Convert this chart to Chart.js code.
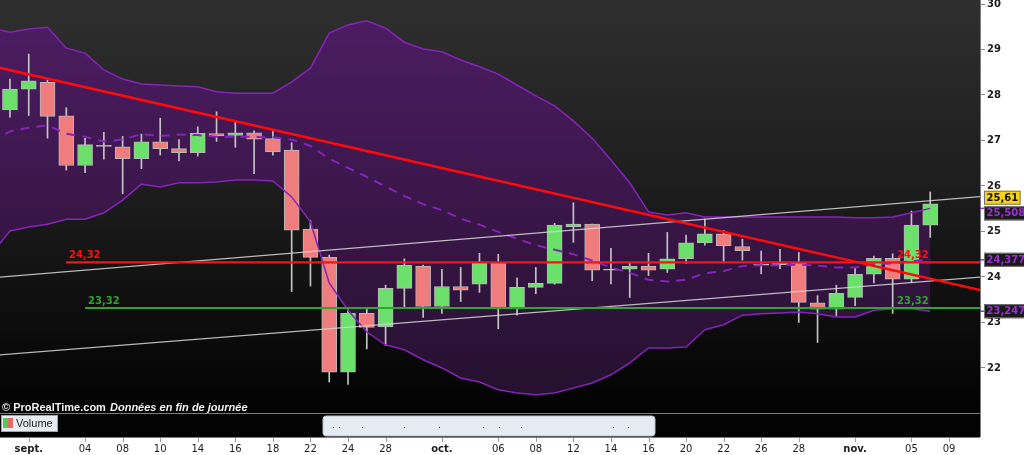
<!DOCTYPE html>
<html>
<head>
<meta charset="utf-8">
<script src="https://cdn.jsdelivr.net/npm/chart.js@4.4.1/dist/chart.umd.min.js"></script>
<style>
  html, body { margin: 0; padding: 0; background: #fff; }
  #wrap { width: 1024px; height: 455px; position: relative; }
</style>
</head>
<body>
<div id="wrap"><canvas id="chart"></canvas></div>
<script>
// daily candles, index 0 = 31 Aug ... 49 = 6 Nov
const opens  = [27.67, 28.13, 28.28, 27.54, 26.45, 26.88, 26.86, 26.60, 26.97, 26.82,
                26.73, 27.15, 27.11, 27.17, 27.04, 26.79, 25.05, 24.43, 21.91, 23.20,
                22.90, 23.75, 24.24, 23.35, 23.79, 23.84, 24.31, 23.30, 23.77, 23.86,
                25.10, 25.16, 24.16, 24.17, 24.24, 24.17, 24.40, 24.75, 24.95, 24.67,
                24.27, 24.27, 24.31, 23.43, 23.29, 23.55, 24.06, 24.41, 23.95, 25.14];
const highs  = [28.35, 28.90, 28.33, 27.72, 27.05, 27.18, 27.09, 27.14, 27.49, 27.02,
                27.30, 27.63, 27.44, 27.21, 27.23, 26.95, 25.24, 24.48, 23.29, 23.33,
                23.82, 24.40, 24.26, 24.17, 24.21, 24.52, 24.50, 23.98, 24.21, 25.18,
                25.63, 25.16, 24.63, 24.31, 24.52, 24.98, 24.92, 25.27, 25.02, 24.83,
                24.57, 24.61, 24.54, 23.59, 23.82, 24.19, 24.46, 24.51, 25.45, 25.87];
const lows   = [27.51, 27.55, 27.05, 26.35, 26.29, 26.59, 25.83, 26.38, 26.68, 26.55,
                26.66, 26.98, 26.85, 26.27, 26.68, 23.68, 23.80, 21.69, 21.64, 22.42,
                22.49, 23.33, 23.11, 23.20, 23.46, 23.66, 22.86, 23.16, 23.63, 23.84,
                24.76, 23.92, 23.85, 23.55, 24.03, 24.10, 24.30, 24.70, 24.34, 24.37,
                24.07, 24.18, 23.00, 22.56, 23.15, 23.37, 23.87, 23.20, 23.88, 24.87];
const closes = [28.13, 28.31, 27.53, 26.45, 26.91, 26.88, 26.60, 26.97, 26.82, 26.73,
                27.16, 27.10, 27.17, 27.03, 26.75, 25.03, 24.43, 21.91, 23.20, 22.89,
                23.75, 24.26, 23.35, 23.79, 23.71, 24.31, 23.30, 23.77, 23.86, 25.14,
                25.16, 24.15, 24.16, 24.24, 24.15, 24.40, 24.75, 24.95, 24.69, 24.58,
                24.27, 24.31, 23.44, 23.29, 23.64, 24.06, 24.41, 23.95, 25.14, 25.61];

// Bollinger bands, index -1 .. 49
const bbUpper = [29.47, 29.38, 29.45, 29.49, 29.03, 28.92, 28.55, 28.35, 28.24, 28.22, 28.20,
                 28.18, 28.07, 28.04, 28.04, 28.04, 28.29, 28.59, 29.36, 29.54, 29.63,
                 29.47, 29.16, 29.01, 28.95, 28.77, 28.62, 28.46, 28.22, 27.98, 27.76,
                 27.43, 27.05, 26.57, 26.07, 25.43, 25.36, 25.41, 25.32, 25.32, 25.32,
                 25.32, 25.32, 25.32, 25.32, 25.32, 25.30, 25.30, 25.32, 25.41, 25.508];
const bbMid   = [26.98, 27.20, 27.28, 27.33, 27.15, 27.08, 26.98, 27.02, 27.14, 27.10, 27.13,
                 27.12, 27.08, 27.08, 27.08, 27.07, 27.02, 26.88, 26.60, 26.40, 26.20,
                 25.99, 25.78, 25.60, 25.47, 25.28, 25.15, 24.99, 24.84, 24.70, 24.60,
                 24.50, 24.36, 24.21, 24.09, 23.94, 23.90, 23.94, 24.08, 24.13, 24.24,
                 24.26, 24.26, 24.27, 24.25, 24.21, 24.21, 24.28, 24.30, 24.35, 24.377];
const bbLower = [24.50, 25.01, 25.10, 25.16, 25.27, 25.27, 25.41, 25.69, 26.04, 25.98, 26.07,
                 26.07, 26.09, 26.13, 26.13, 26.11, 25.76, 25.21, 23.87, 23.27, 22.79,
                 22.51, 22.40, 22.18, 22.00, 21.78, 21.69, 21.52, 21.45, 21.41, 21.45,
                 21.56, 21.67, 21.85, 22.11, 22.44, 22.44, 22.46, 22.84, 22.95, 23.16,
                 23.19, 23.21, 23.23, 23.19, 23.12, 23.12, 23.27, 23.30, 23.30, 23.247];

// axis ticks
const yTicks = [22, 23, 24, 25, 26, 27, 28, 29, 30];
const tickIdx = [1, 4, 6, 8, 10, 12, 14, 16, 18, 20, 23, 26, 28, 30, 32, 34, 36, 38, 40, 42, 45, 48, 50];
const tickLabels = ['sept.', '04', '08', '10', '14', '16', '18', '22', '24', '28', 'oct.',
                    '06', '08', '12', '14', '16', '20', '22', '26', '28', 'nov.', '05', '09'];

// hand-drawn lines: [index, price] end points
const downTrend   = [[-1, 28.64], [52, 23.68]];
const channelHigh = [[-1, 23.98], [52, 25.78]];
const channelLow  = [[-1, 22.27], [52, 24.01]];
const levels      = [24.32, 23.32];
const levelStart  = [2.98, 4.0];
const levelColors = ['#ff1010', '#2fa52f'];

const FONT = "'DejaVu Sans', sans-serif";
const SANS = "'Liberation Sans', Arial, sans-serif";
const UP = '#6be06b', DOWN = '#f07d7d', FLAT = '#dedede';

const bodies = opens.map((o, i) => {
  const c = closes[i];
  return { x: i, y: o === c ? [o - 0.012, o + 0.012] : [o, c] };
});
const bodyColors = opens.map((o, i) => closes[i] > o ? UP : closes[i] < o ? DOWN : FLAT);
const wicks = lows.map((l, i) => ({ x: i, y: [l, highs[i]] }));
const band = arr => arr.map((v, i) => ({ x: i - 1, y: v }));
const seg = pts => pts.map(p => ({ x: p[0], y: p[1] }));
const fmt = (v, d) => v.toFixed(d).replace('.', ',');

function line(data, color, width, order, extra) {
  return Object.assign({
    type: 'line', data, borderColor: color, borderWidth: width,
    pointRadius: 0, tension: 0, fill: false, order
  }, extra || {});
}

const prtPlugin = {
  id: 'prt',
  beforeDraw(chart) {
    const c = chart.ctx, a = chart.chartArea;
    c.save();
    c.fillStyle = '#fff';
    c.fillRect(0, 0, chart.width, chart.height);
    const g = c.createLinearGradient(0, a.top, 0, a.bottom);
    g.addColorStop(0, '#2f2f2f');
    g.addColorStop(0.45, '#1d1d1d');
    g.addColorStop(1, '#020202');
    c.fillStyle = g;
    c.fillRect(a.left, a.top, a.right - a.left, a.bottom - a.top);
    // volume panel
    c.fillStyle = '#030303';
    c.fillRect(a.left, a.bottom, a.right - a.left, 24);
    c.restore();
  },
  afterDraw(chart) {
    const c = chart.ctx, a = chart.chartArea;
    const xs = chart.scales.x, ys = chart.scales.y;
    c.save();
    // panel borders
    c.strokeStyle = '#7a7a7a';
    c.lineWidth = 1;
    c.beginPath();
    c.moveTo(a.left, a.bottom + 0.5); c.lineTo(a.right, a.bottom + 0.5);
    c.moveTo(a.left, a.bottom + 24.5); c.lineTo(a.right, a.bottom + 24.5);
    c.moveTo(a.right + 0.5, a.top); c.lineTo(a.right + 0.5, a.bottom + 24);
    c.stroke();
    // x tick marks
    c.strokeStyle = '#999';
    c.beginPath();
    tickIdx.forEach(v => {
      const px = Math.round(xs.getPixelForValue(v)) + 0.5;
      c.moveTo(px, a.bottom + 25); c.lineTo(px, a.bottom + 29);
    });
    c.stroke();

    // level labels
    c.font = 'bold 10px ' + FONT;
    c.textBaseline = 'alphabetic';
    levels.forEach((lv, k) => {
      const py = ys.getPixelForValue(lv);
      c.fillStyle = levelColors[k];
      c.fillText(fmt(lv, 2), xs.getPixelForValue(levelStart[k]) + 3, py - 4);
      c.fillText(fmt(lv, 2), a.right - 83, py - 4);
    });

    // price tags on the right axis
    const last = closes.length - 1;
    function tag(text, value, dy, bg, fg, tick) {
      const py = ys.getPixelForValue(value);
      if (tick) {
        c.strokeStyle = fg; c.lineWidth = 1.5;
        c.beginPath(); c.moveTo(a.right, py); c.lineTo(a.right + 6, py); c.stroke();
      }
      c.font = 'bold 10px ' + FONT;
      const w = c.measureText(text).width + 5;
      c.fillStyle = bg;
      c.fillRect(a.right + 4, py + dy - 7, w, 14);
      c.strokeStyle = '#777'; c.lineWidth = 1;
      c.strokeRect(a.right + 4.5, py + dy - 6.5, w - 1, 13);
      c.fillStyle = fg;
      c.textBaseline = 'middle';
      c.fillText(text, a.right + 6.5, py + dy + 0.5);
    }
    tag(fmt(bbLower[bbLower.length - 1], 3), bbLower[bbLower.length - 1], 0, '#1a1a1a', '#9b2fd6', true);
    tag(fmt(bbMid[bbMid.length - 1], 3), bbMid[bbMid.length - 1], 0, '#1a1a1a', '#9b2fd6', true);
    tag(fmt(bbUpper[bbUpper.length - 1], 3), bbUpper[bbUpper.length - 1], 5, '#1a1a1a', '#9b2fd6', true);
    tag(fmt(closes[last], 2), closes[last], -6, '#f4d31a', '#111', false);

    // copyright line
    c.textBaseline = 'alphabetic';
    c.fillStyle = '#f2f2f2';
    c.font = 'bold 11px ' + SANS;
    c.fillText('\u00a9 ProRealTime.com', 2, a.bottom - 2);
    c.font = 'italic bold 11px ' + SANS;
    c.fillText('Donn\u00e9es en fin de journ\u00e9e', 110, a.bottom - 2);

    // volume legend
    c.fillStyle = '#e6ecf2';
    c.fillRect(1, a.bottom + 2, 57, 17);
    c.strokeStyle = '#9aa';
    c.strokeRect(1.5, a.bottom + 2.5, 56, 16);
    c.fillStyle = '#4ccf4c'; c.fillRect(3, a.bottom + 5, 5, 10);
    c.fillStyle = '#e56a6a'; c.fillRect(8, a.bottom + 5, 5, 10);
    c.fillStyle = '#222';
    c.font = '11px ' + SANS;
    c.textBaseline = 'middle';
    c.fillText('Volume', 16, a.bottom + 11);

    // navigator
    c.fillStyle = '#e4ebf2';
    c.beginPath();
    c.roundRect(323, a.bottom + 3, 332, 20, 3);
    c.fill();
    c.strokeStyle = '#b8c0c8'; c.stroke();
    c.fillStyle = '#333';
    [333, 339, 362, 404, 439, 483, 499, 521, 613, 628].forEach(px => {
      c.fillRect(px, a.bottom + 14, 1, 1);
    });
    c.restore();
  }
};

new Chart(document.getElementById('chart'), {
  type: 'bar',
  data: {
    datasets: [
      line(seg(downTrend), '#ff0a0a', 2.6, 1),
      line(seg([[levelStart[0], levels[0]], [52, levels[0]]]), levelColors[0], 2.4, 2),
      line(seg([[levelStart[1], levels[1]], [52, levels[1]]]), levelColors[1], 2, 2),
      line(seg(channelHigh), 'rgba(215,215,215,0.85)', 1.2, 3),
      line(seg(channelLow), 'rgba(215,215,215,0.85)', 1.2, 3),
      line(band(bbMid), '#8424b8', 2, 9, { borderDash: [9, 7] }),
      line(band(bbUpper), '#8424b8', 1.5, 10, {
        fill: '+1',
        backgroundColor(ctx) {
          const a = ctx.chart.chartArea;
          if (!a) return 'rgba(70,25,95,0.8)';
          const g = ctx.chart.ctx.createLinearGradient(0, a.top, 0, a.bottom);
          g.addColorStop(0, '#4e1d65');
          g.addColorStop(0.5, '#3a1649');
          g.addColorStop(1, '#23102c');
          return g;
        }
      }),
      line(band(bbLower), '#8424b8', 1.5, 11),
      {
        type: 'bar', data: bodies, backgroundColor: bodyColors,
        borderColor: '#b8b8b8', borderWidth: 1, borderSkipped: false,
        barThickness: 15, grouped: false, order: 19
      },
      {
        type: 'bar', data: wicks, backgroundColor: '#c4c4c4',
        borderWidth: 0, barThickness: 1, grouped: false, order: 20
      }
    ]
  },
  options: {
    responsive: true,
    maintainAspectRatio: false,
    animation: false,
    events: [],
    layout: { padding: 0 },
    plugins: {
      legend: { display: false },
      tooltip: { enabled: false },
      filler: { drawTime: 'beforeDatasetsDraw', propagate: false }
    },
    scales: {
      x: {
        type: 'linear', min: -0.53, max: 51.65, offset: false,
        grid: { display: false, drawTicks: false },
        border: { display: false },
        afterBuildTicks: s => { s.ticks = tickIdx.map(v => ({ value: v })); },
        afterFit: s => { s.height = 42; s.paddingLeft = 0; s.paddingRight = 0; },
        ticks: {
          autoSkip: false, maxRotation: 0, padding: 30, color: '#1c1c1c',
          callback: v => tickLabels[tickIdx.indexOf(v)],
          font: ctx => ({
            family: FONT, size: 10,
            weight: ctx.tick && String(ctx.tick.label).indexOf('.') > 0 ? 'bold' : 'normal'
          })
        }
      },
      y: {
        position: 'right', min: 21.01, max: 30.088,
        grid: { drawOnChartArea: false, drawTicks: true, tickLength: 5, color: '#8a8a8a' },
        border: { display: false },
        afterBuildTicks: s => { s.ticks = yTicks.map(v => ({ value: v })); },
        afterFit: s => { s.width = 44; s.paddingTop = 0; s.paddingBottom = 0; },
        ticks: {
          padding: 2, color: '#1c1c1c',
          font: { family: FONT, size: 10, weight: 'bold' },
          callback: v => String(v)
        }
      }
    }
  },
  plugins: [prtPlugin]
});
</script>
</body>
</html>
